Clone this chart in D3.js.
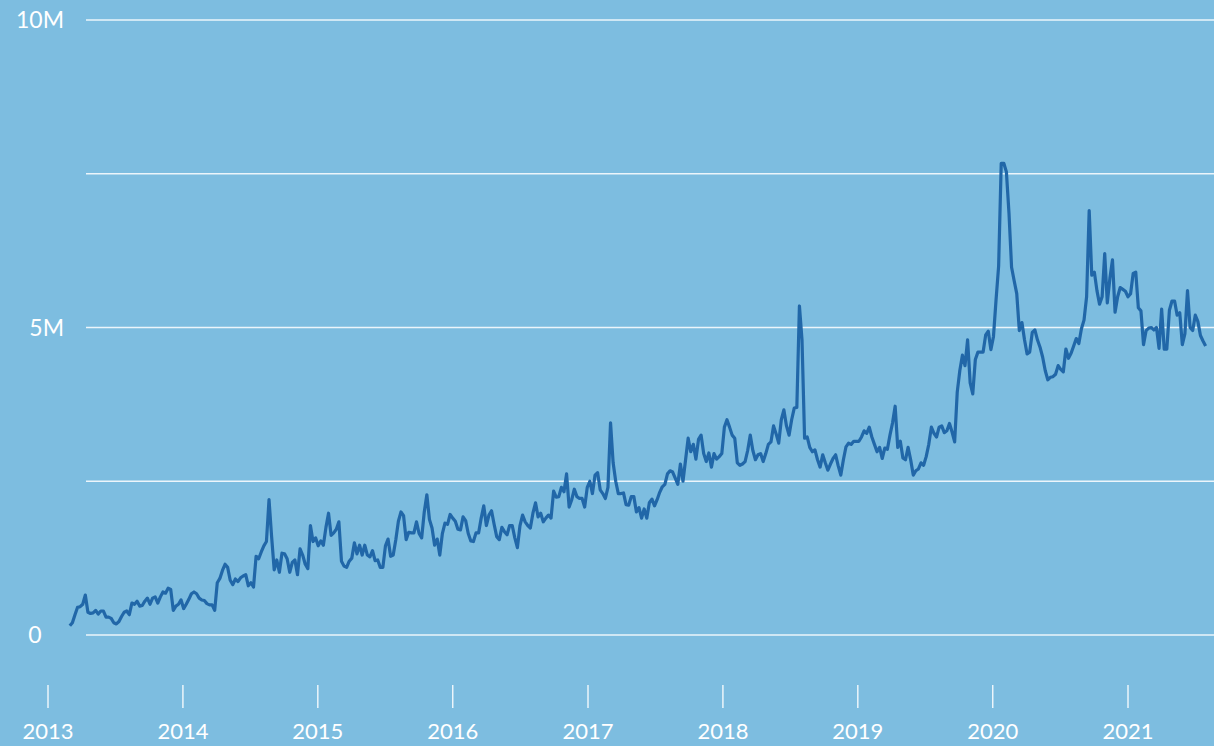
<!DOCTYPE html>
<html>
<head>
<meta charset="utf-8">
<script src="https://cdn.jsdelivr.net/npm/d3@7"></script>
<style>
  html, body { margin: 0; padding: 0; background: #7dbde0; }
  svg { display: block; }
  text { font-family: Lato, "Open Sans", sans-serif; fill: #fff; }
</style>
</head>
<body>
<div id="chart"></div>
<script>
// weekly series, first week starts 2013-03-01, values in millions
var startDate = "2013-03-01";
var values = [
  0.15,0.2,0.33,0.45,0.46,0.5,0.65,0.37,0.35,0.36,0.4,0.34,0.39,0.39,0.29,0.29,0.27,0.2,0.18,0.22,
  0.3,0.37,0.39,0.33,0.52,0.5,0.55,0.47,0.48,0.55,0.6,0.5,0.6,0.62,0.52,0.62,0.7,0.68,0.76,0.74,
  0.4,0.47,0.5,0.57,0.43,0.5,0.58,0.67,0.7,0.67,0.6,0.57,0.56,0.51,0.49,0.49,0.4,0.85,0.92,1.05,
  1.15,1.1,0.89,0.82,0.91,0.87,0.93,0.96,0.98,0.8,0.85,0.78,1.28,1.24,1.35,1.45,1.52,2.2,1.6,1.06,
  1.22,1.02,1.33,1.32,1.24,1.02,1.18,1.22,0.98,1.4,1.3,1.15,1.08,1.78,1.52,1.58,1.45,1.53,1.46,1.75,
  1.98,1.62,1.66,1.72,1.84,1.2,1.12,1.1,1.2,1.25,1.5,1.32,1.46,1.3,1.46,1.3,1.27,1.37,1.21,1.22,
  1.1,1.1,1.45,1.56,1.28,1.3,1.55,1.85,2.0,1.94,1.55,1.67,1.66,1.66,1.84,1.65,1.58,2.0,2.28,1.88,
  1.74,1.46,1.56,1.3,1.65,1.82,1.8,1.96,1.9,1.85,1.72,1.71,1.92,1.86,1.65,1.53,1.52,1.66,1.66,1.9,
  2.1,1.78,1.95,2.02,1.8,1.6,1.55,1.75,1.68,1.63,1.78,1.78,1.58,1.42,1.78,1.95,1.84,1.78,1.74,1.98,
  2.15,1.92,1.98,1.84,1.9,1.95,1.9,2.34,2.24,2.25,2.4,2.33,2.62,2.08,2.2,2.37,2.25,2.22,2.22,2.08,
  2.4,2.5,2.3,2.6,2.64,2.36,2.3,2.22,2.4,3.45,2.8,2.5,2.3,2.3,2.31,2.12,2.11,2.25,2.25,2.0,
  2.07,1.9,2.05,1.9,2.15,2.21,2.1,2.2,2.32,2.41,2.45,2.62,2.67,2.65,2.55,2.45,2.78,2.5,2.85,3.2,
  2.98,3.1,2.86,3.18,3.25,2.95,2.82,2.96,2.73,2.95,2.86,2.9,2.95,3.38,3.5,3.38,3.25,3.2,2.8,2.76,
  2.78,2.82,3.0,3.25,3.0,2.85,2.93,2.95,2.82,2.95,3.1,3.14,3.4,3.27,3.12,3.5,3.66,3.4,3.25,3.5,3.69,
  3.7,5.35,4.8,3.2,3.22,3.05,2.98,3.01,2.85,2.73,2.93,2.8,2.68,2.78,2.87,2.93,2.75,2.6,2.85,3.06,
  3.12,3.1,3.15,3.15,3.15,3.22,3.32,3.28,3.38,3.22,3.1,2.98,3.05,2.87,3.04,3.02,3.25,3.45,3.72,3.05,
  3.15,2.88,2.85,3.05,2.85,2.6,2.67,2.7,2.8,2.76,2.9,3.1,3.38,3.28,3.22,3.38,3.4,3.29,3.32,3.44,
  3.3,3.14,3.95,4.3,4.55,4.38,4.8,4.1,3.92,4.48,4.6,4.6,4.6,4.88,4.94,4.64,4.85,5.45,6.0,7.67,
  7.67,7.53,6.86,5.98,5.76,5.55,4.95,5.08,4.8,4.57,4.6,4.92,4.96,4.8,4.68,4.52,4.3,4.15,4.19,4.2,4.24,
  4.38,4.32,4.28,4.65,4.5,4.58,4.7,4.82,4.74,4.98,5.12,5.5,6.9,5.85,5.9,5.6,5.38,5.5,6.2,5.4,
  5.8,6.1,5.25,5.5,5.65,5.62,5.59,5.5,5.55,5.88,5.9,5.32,5.27,4.72,4.95,4.99,5.0,4.96,5.0,4.66,
  5.3,4.65,4.65,5.28,5.43,5.43,5.2,5.24,4.72,4.9,5.6,5.0,4.95,5.2,5.1,4.87,4.78,4.7
];
var yTicks = [0, 2.5e6, 5e6, 7.5e6, 1e7];
var yLabels = {0: "0", 5000000: "5M", 10000000: "10M"};
var years = [2013, 2014, 2015, 2016, 2017, 2018, 2019, 2020, 2021];

var width = 1214, height = 746;
var parse = d3.timeParse("%Y-%m-%d");
var t0 = parse(startDate);
var data = values.map(function(v, i) {
  return { date: d3.timeDay.offset(t0, i * 7), value: v * 1e6 };
});

var svg = d3.select("#chart").append("svg")
  .attr("width", width).attr("height", height);

var x = d3.scaleTime()
  .domain([new Date(2013, 0, 1), new Date(2021, 0, 1)])
  .range([48, 1128]);
var y = d3.scaleLinear().domain([0, 1e7]).range([635, 20]);

// gridlines
svg.append("g").selectAll("line").data(yTicks).enter().append("line")
  .attr("x1", 86).attr("x2", width)
  .attr("y1", function(d) { return y(d); })
  .attr("y2", function(d) { return y(d); })
  .attr("stroke", "#fff").attr("stroke-opacity", 0.85)
  .attr("stroke-width", 1.5);

// y labels
svg.append("g").selectAll("text").data(yTicks.filter(function(d) { return yLabels[d]; }))
  .enter().append("text")
  .attr("x", function(d) { return d === 0 ? 35 : 64; })
  .attr("y", function(d) { return y(d); })
  .attr("dy", "0.35em")
  .attr("text-anchor", function(d) { return d === 0 ? "middle" : "end"; })
  .attr("font-size", 23)
  .text(function(d) { return yLabels[d]; });

// x axis
var xg = svg.append("g");
xg.selectAll("line").data(years).enter().append("line")
  .attr("x1", function(d) { return x(new Date(d, 0, 1)); })
  .attr("x2", function(d) { return x(new Date(d, 0, 1)); })
  .attr("y1", 685).attr("y2", 708)
  .attr("stroke", "#fff").attr("stroke-opacity", 0.85).attr("stroke-width", 1.5);
xg.selectAll("text").data(years).enter().append("text")
  .attr("x", function(d) { return x(new Date(d, 0, 1)); })
  .attr("y", 731)
  .attr("dy", "0.35em")
  .attr("text-anchor", "middle")
  .attr("font-size", 22)
  .text(function(d) { return d; });

// the line
var line = d3.line()
  .x(function(d) { return x(d.date); })
  .y(function(d) { return y(d.value); });

svg.append("path").datum(data)
  .attr("d", line)
  .attr("fill", "none")
  .attr("stroke", "#2167a8")
  .attr("stroke-width", 3.2)
  .attr("stroke-linejoin", "round");
</script>
</body>
</html>
